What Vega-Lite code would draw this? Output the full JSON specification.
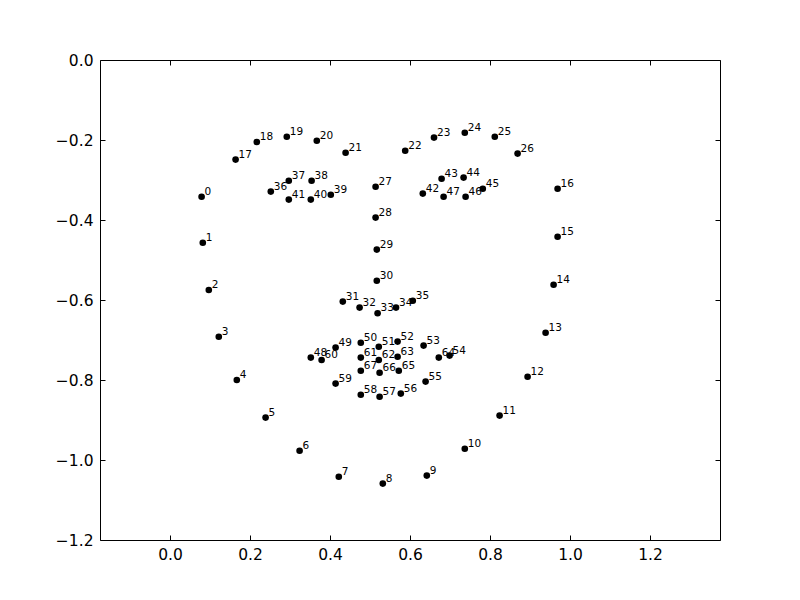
{
  "$schema": "https://vega.github.io/schema/vega-lite/v6.json",
  "autosize": {"type": "none"},
  "padding": {"left": 100, "top": 60, "right": 80, "bottom": 60},
  "width": 620,
  "height": 480,
  "background": "white",
  "config": {
    "view": {"stroke": "black", "strokeWidth": 1},
    "axis": {
      "domain": false,
      "grid": false,
      "tickColor": "black",
      "tickSize": -5,
      "tickWidth": 1,
      "labelColor": "black",
      "labelFont": "DejaVu Sans",
      "labelFontSize": 15.5,
      "labelPadding": 12
    }
  },
  "data": {
    "values": [
      {"i": 0, "x": 0.079, "y": -0.342},
      {"i": 1, "x": 0.082, "y": -0.457},
      {"i": 2, "x": 0.097, "y": -0.575},
      {"i": 3, "x": 0.122, "y": -0.692},
      {"i": 4, "x": 0.167, "y": -0.800},
      {"i": 5, "x": 0.239, "y": -0.894},
      {"i": 6, "x": 0.324, "y": -0.977},
      {"i": 7, "x": 0.422, "y": -1.042},
      {"i": 8, "x": 0.532, "y": -1.059},
      {"i": 9, "x": 0.642, "y": -1.039},
      {"i": 10, "x": 0.737, "y": -0.972},
      {"i": 11, "x": 0.824, "y": -0.889},
      {"i": 12, "x": 0.894, "y": -0.792},
      {"i": 13, "x": 0.939, "y": -0.682},
      {"i": 14, "x": 0.959, "y": -0.562},
      {"i": 15, "x": 0.969, "y": -0.442},
      {"i": 16, "x": 0.969, "y": -0.322},
      {"i": 17, "x": 0.164, "y": -0.249},
      {"i": 18, "x": 0.217, "y": -0.205},
      {"i": 19, "x": 0.292, "y": -0.192},
      {"i": 20, "x": 0.367, "y": -0.202},
      {"i": 21, "x": 0.439, "y": -0.232},
      {"i": 22, "x": 0.588, "y": -0.227},
      {"i": 23, "x": 0.660, "y": -0.194},
      {"i": 24, "x": 0.737, "y": -0.182},
      {"i": 25, "x": 0.812, "y": -0.192},
      {"i": 26, "x": 0.869, "y": -0.234},
      {"i": 27, "x": 0.514, "y": -0.317},
      {"i": 28, "x": 0.514, "y": -0.394},
      {"i": 29, "x": 0.517, "y": -0.474},
      {"i": 30, "x": 0.517, "y": -0.552},
      {"i": 31, "x": 0.432, "y": -0.604},
      {"i": 32, "x": 0.474, "y": -0.619},
      {"i": 33, "x": 0.519, "y": -0.633},
      {"i": 34, "x": 0.565, "y": -0.619},
      {"i": 35, "x": 0.607, "y": -0.602},
      {"i": 36, "x": 0.252, "y": -0.329},
      {"i": 37, "x": 0.297, "y": -0.302},
      {"i": 38, "x": 0.354, "y": -0.302},
      {"i": 39, "x": 0.402, "y": -0.337},
      {"i": 40, "x": 0.352, "y": -0.349},
      {"i": 41, "x": 0.297, "y": -0.349},
      {"i": 42, "x": 0.632, "y": -0.334},
      {"i": 43, "x": 0.679, "y": -0.297},
      {"i": 44, "x": 0.734, "y": -0.294},
      {"i": 45, "x": 0.782, "y": -0.322},
      {"i": 46, "x": 0.739, "y": -0.342},
      {"i": 47, "x": 0.684, "y": -0.342},
      {"i": 48, "x": 0.352, "y": -0.744},
      {"i": 49, "x": 0.414, "y": -0.719},
      {"i": 50, "x": 0.477, "y": -0.707},
      {"i": 51, "x": 0.522, "y": -0.717},
      {"i": 52, "x": 0.569, "y": -0.704},
      {"i": 53, "x": 0.634, "y": -0.714},
      {"i": 54, "x": 0.699, "y": -0.739},
      {"i": 55, "x": 0.639, "y": -0.804},
      {"i": 56, "x": 0.577, "y": -0.834},
      {"i": 57, "x": 0.524, "y": -0.842},
      {"i": 58, "x": 0.477, "y": -0.837},
      {"i": 59, "x": 0.414, "y": -0.809},
      {"i": 60, "x": 0.379, "y": -0.750},
      {"i": 61, "x": 0.477, "y": -0.744},
      {"i": 62, "x": 0.522, "y": -0.750},
      {"i": 63, "x": 0.569, "y": -0.742},
      {"i": 64, "x": 0.672, "y": -0.744},
      {"i": 65, "x": 0.572, "y": -0.777},
      {"i": 66, "x": 0.524, "y": -0.782},
      {"i": 67, "x": 0.477, "y": -0.777}
    ]
  },
  "layer": [
    {
      "mark": {"type": "circle", "size": 44, "color": "black", "opacity": 1},
      "encoding": {
        "x": {
          "field": "x", "type": "quantitative",
          "scale": {"domain": [-0.175, 1.375], "nice": false, "zero": false},
          "axis": {"orient": "bottom", "title": null, "values": [0, 0.2, 0.4, 0.6, 0.8, 1.0, 1.2], "format": ".1f"}
        },
        "y": {
          "field": "y", "type": "quantitative",
          "scale": {"domain": [-1.2, 0], "nice": false, "zero": false},
          "axis": {"orient": "left", "title": null, "values": [-1.2, -1.0, -0.8, -0.6, -0.4, -0.2, 0], "format": ".1f"}
        }
      }
    },
    {
      "mark": {"type": "text", "align": "left", "baseline": "alphabetic", "dx": 3, "dy": -2, "font": "DejaVu Sans", "fontSize": 10.5, "color": "black"},
      "encoding": {
        "x": {
          "field": "x", "type": "quantitative",
          "axis": {"orient": "top", "title": null, "labels": false, "values": [0, 0.2, 0.4, 0.6, 0.8, 1.0, 1.2]}
        },
        "y": {
          "field": "y", "type": "quantitative",
          "axis": {"orient": "right", "title": null, "labels": false, "values": [-1.2, -1.0, -0.8, -0.6, -0.4, -0.2, 0]}
        },
        "text": {"field": "i", "type": "nominal"}
      }
    }
  ]
}
